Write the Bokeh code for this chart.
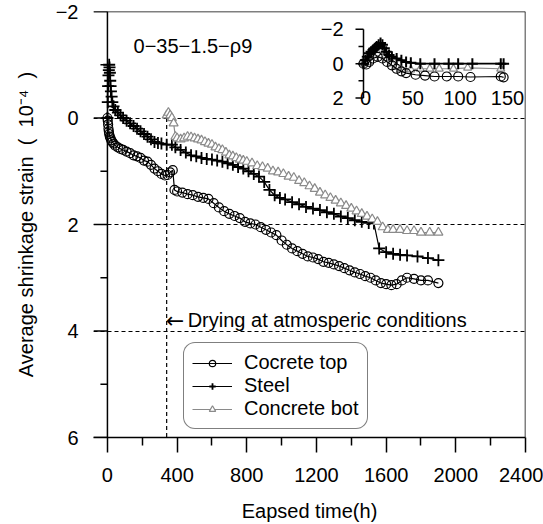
import math
from bokeh.plotting import figure
from bokeh.models import Range1d, FixedTicker, Legend, LegendItem, Span
from bokeh.core.properties import value
from bokeh.embed import file_html
from bokeh.resources import INLINE

FONT = "Liberation Sans"
FS = "20px"

# ---------------- data ----------------
top_t = [0, 2, 4, 6, 8, 10, 14, 18, 22, 28, 35, 45, 60, 75, 90, 110, 130, 150, 170, 190,
         210, 230, 250, 270, 290, 310, 330, 345, 360, 375, 385, 400, 430, 460, 490, 520,
         550, 580, 610, 640, 670, 700, 730, 760, 790, 820, 850, 880, 910, 940, 970, 1000,
         1030, 1060, 1090, 1120, 1150, 1180, 1210, 1240, 1270, 1300, 1330, 1360, 1390, 1420,
         1450, 1480, 1510, 1540, 1570, 1600, 1630, 1660, 1690, 1720, 1760, 1800, 1840, 1900]
top_y = [0, 0.05, 0.12, 0.2, 0.25, 0.3, 0.35, 0.38, 0.42, 0.45, 0.48, 0.52, 0.55, 0.58, 0.6,
         0.63, 0.66, 0.7, 0.72, 0.75, 0.8, 0.82, 0.88, 0.95, 1.0, 1.05, 1.08, 1.07, 1.02, 0.98,
         1.35, 1.38, 1.4, 1.43, 1.45, 1.48, 1.5, 1.52, 1.6, 1.68, 1.75, 1.8, 1.84, 1.88, 1.95,
         1.98, 2.0, 2.05, 2.1, 2.15, 2.2, 2.3, 2.38, 2.45, 2.5, 2.55, 2.6, 2.62, 2.65, 2.7,
         2.72, 2.75, 2.78, 2.82, 2.86, 2.9, 2.93, 2.97, 3.0, 3.05, 3.1, 3.12, 3.14, 3.12, 3.05,
         3.0, 3.02, 3.05, 3.05, 3.1]

steel_t = [0, 2, 4, 6, 8, 10, 12, 14, 16, 18, 20, 24, 28, 35, 45, 60, 75, 90, 110, 130, 150,
           170, 190, 210, 230, 250, 270, 290, 310, 340, 370, 390, 420, 450, 480, 510, 540, 570,
           600, 630, 660, 690, 720, 750, 780, 810, 840, 870, 900, 930, 960, 990, 1020, 1060,
           1100, 1140, 1180, 1220, 1260, 1300, 1340, 1380, 1420, 1460, 1500, 1530, 1560, 1600,
           1640, 1680, 1720, 1780, 1840, 1900]
steel_y = [0, -0.3, -0.6, -0.8, -0.9, -1.0, -0.95, -0.85, -0.7, -0.6, -0.5, -0.4, -0.3, -0.22,
           -0.15, -0.1, -0.05, 0.0, 0.05, 0.1, 0.15, 0.2, 0.25, 0.3, 0.35, 0.4, 0.45, 0.47, 0.48,
           0.5, 0.5, 0.55, 0.6, 0.65, 0.7, 0.72, 0.75, 0.77, 0.78, 0.8, 0.82, 0.85, 0.88, 0.92,
           0.95, 1.0, 1.05, 1.1, 1.2, 1.35, 1.45, 1.5, 1.53, 1.58, 1.62, 1.67, 1.7, 1.73, 1.77,
           1.8, 1.85, 1.88, 1.92, 1.95, 1.97, 1.98, 2.45, 2.52, 2.55, 2.57, 2.58, 2.6, 2.63, 2.67]

bot_t = [340, 350, 360, 370, 380, 390, 400, 420, 440, 460, 480, 500, 520, 540, 560, 580, 600,
         620, 640, 660, 680, 700, 720, 740, 760, 780, 800, 830, 860, 890, 920, 950, 980, 1010,
         1040, 1070, 1100, 1130, 1160, 1190, 1220, 1250, 1280, 1310, 1340, 1370, 1400, 1430,
         1460, 1490, 1520, 1550, 1580, 1610, 1640, 1680, 1720, 1760, 1800, 1850, 1900]
bot_y = [-0.05, -0.1, -0.05, 0.0, 0.1, 0.35, 0.38, 0.4, 0.38, 0.35, 0.36, 0.38, 0.4, 0.42,
         0.45, 0.48, 0.5, 0.55, 0.58, 0.6, 0.65, 0.7, 0.72, 0.75, 0.78, 0.8, 0.82, 0.85, 0.9,
         0.92, 0.95, 1.0, 1.02, 1.05, 1.1, 1.12, 1.18, 1.22, 1.28, 1.33, 1.4, 1.45, 1.5, 1.55,
         1.6, 1.65, 1.7, 1.75, 1.8, 1.85, 1.9, 1.95, 2.05, 2.1, 2.1, 2.1, 2.12, 2.12, 2.15,
         2.15, 2.15]

# inset (first 150 h)
in_steel_t = [0, 2, 4, 6, 8, 10, 12, 14, 16, 18, 20, 22, 24, 27, 30, 35, 40, 45, 50, 60, 75,
              90, 100, 115, 145, 148]
in_steel_y = [0, -0.2, -0.4, -0.6, -0.7, -0.8, -0.9, -1.0, -1.1, -1.2, -1.1, -0.9, -0.7, -0.5,
              -0.4, -0.3, -0.2, -0.1, -0.05, 0.0, 0.0, 0.0, 0.0, 0.0, 0.0, 0.0]
in_top_t = [0, 3, 6, 10, 15, 20, 25, 30, 35, 40, 45, 55, 65, 75, 88, 100, 113, 145, 148]
in_top_y = [0, 0.05, -0.1, -0.3, -0.4, -0.3, -0.1, 0.1, 0.3, 0.45, 0.55, 0.65, 0.7, 0.75,
            0.75, 0.75, 0.78, 0.75, 0.8]
in_bot_t = [0, 5, 10, 15, 20, 25, 30, 35, 40, 50, 60, 70, 80, 95, 110, 145]
in_bot_y = [0, -0.1, -0.5, -0.6, -0.5, -0.3, 0.0, 0.2, 0.35, 0.35, 0.3, 0.3, 0.3, 0.3, 0.25, 0.3]

x_ticks = [0, 400, 800, 1200, 1600, 2000, 2400]
x_minor = [200, 600, 1000, 1400, 1800, 2200]
y_ticks = [-2, 0, 2, 4, 6]
y_minor = [-1, 1, 3, 5]
grid_ticks = [0, 2, 4]
in_y_ticks = [-2, -1, 0, 1, 2]
in_y_labels = ["−2", "0", "2"]
in_y_label_pos = [-2, 0, 2]
in_x_ticks = [0, 50, 100, 150]

drying_t = 340
drying_label_y = 3.8
drying_text = "Drying at atmosperic conditions"
spec_label = "0−35−1.5−ρ9"
y_title = "Average shrinkage strain\u00a0\u00a0(\u00a0\u00a010⁻⁴\u00a0\u00a0)"

# ---------------- layout geometry ----------------
W, H = 543, 524
FL, FR, FT, FB = 93, 525, 11, 440
X0, X1 = -80, 2400
Y_BOT, Y_TOP = 6, -2

p = figure(width=W, height=H, output_backend="svg", toolbar_location=None,
           x_range=Range1d(X0, X1), y_range=Range1d(Y_BOT, Y_TOP),
           min_border_left=FL, min_border_right=W - FR, min_border_top=FT,
           min_border_bottom=H - FB)
p.outline_line_color = None
p.background_fill_color = "white"
p.border_fill_color = "white"

# x axis
xa = p.xaxis[0]
xa.ticker = FixedTicker(ticks=x_ticks, minor_ticks=x_minor)
xa.major_tick_out = 15
xa.major_tick_in = 0
xa.minor_tick_out = 8
xa.minor_tick_in = 0
xa.axis_line_width = 1.5
xa.major_tick_line_width = 1.5
xa.minor_tick_line_width = 1.5
xa.major_label_standoff = 15
xa.major_label_text_font = FONT
xa.major_label_text_font_size = FS
xa.major_label_text_color = "black"
xa.axis_label = "Eapsed time(h)"
xa.axis_label_text_font = FONT
xa.axis_label_text_font_size = FS
xa.axis_label_text_font_style = "normal"
xa.axis_label_text_color = "black"
xa.axis_label_standoff = 15

# y axis: labels from the frame side; line + ticks drawn at x = 0 below
ya = p.yaxis[0]
ya.ticker = FixedTicker(ticks=y_ticks, minor_ticks=y_minor)
ya.major_label_overrides = {-2: "−2"}
ya.axis_line_color = None
ya.major_tick_out = 0
ya.major_tick_in = 0
ya.minor_tick_out = 0
ya.minor_tick_in = 0
ya.major_label_standoff = 15
ya.major_label_text_font = FONT
ya.major_label_text_font_size = FS
ya.major_label_text_color = "black"
ya.axis_label = y_title
ya.axis_label_text_font = FONT
ya.axis_label_text_font_size = FS
ya.axis_label_text_font_style = "normal"
ya.axis_label_text_color = "black"
ya.axis_label_standoff = 16

p.add_layout(Span(location=0, dimension="height", line_color="black", line_width=1.5))
p.ray(x=[0] * len(y_ticks), y=y_ticks, length=14, length_units="screen", angle=math.pi,
      line_color="black", line_width=1.5)
p.ray(x=[0] * len(y_minor), y=y_minor, length=7, length_units="screen", angle=math.pi,
      line_color="black", line_width=1.5)

p.xgrid.visible = False
p.ygrid.ticker = FixedTicker(ticks=grid_ticks)
p.ygrid.grid_line_color = "black"
p.ygrid.grid_line_dash = "4 3"
p.ygrid.grid_line_width = 1

# top and right borders
p.add_layout(Span(location=Y_TOP, dimension="width", line_color="black", line_width=1.5))
p.add_layout(Span(location=X1, dimension="height", line_color="black", line_width=1.5))

# drying marker
p.segment(x0=[drying_t], y0=[0], x1=[drying_t], y1=[Y_BOT], line_color="black",
          line_dash="4 3", line_width=1.2)
p.text(x=[drying_t], y=[drying_label_y], text=["←"], text_font=value("DejaVu Sans"),
       text_font_size="22px", text_baseline="middle", x_offset=-1, text_color="black")
p.text(x=[drying_t], y=[drying_label_y], text=[drying_text], text_font=value(FONT),
       text_font_size=FS, text_baseline="middle", x_offset=21, text_color="black")
p.text(x=[150], y=[-1.35], text=[spec_label], text_font=value(FONT), text_font_size=FS,
       text_baseline="middle", text_color="black")

# main series
GRAY = "#8a8a8a"
l1 = p.line(top_t, top_y, line_color="black", line_width=1.2)
s1 = p.scatter(top_t, top_y, marker="circle", size=9, line_color="black", fill_color=None,
               line_width=1.2)
l2 = p.line(steel_t, steel_y, line_color="black", line_width=1.2)
s2 = p.scatter(steel_t, steel_y, marker="cross", size=12, line_color="black", line_width=1.8)
l3 = p.line(bot_t, bot_y, line_color=GRAY, line_width=1.2)
s3 = p.scatter(bot_t, bot_y, marker="triangle", size=9, line_color=GRAY, fill_color="white",
               line_width=1.2)

# ---------------- inset via extra ranges ----------------
IX0_PX, IX150_PX = 363, 505
IYM2_PX, IY2_PX = 29, 98
sx = (IX150_PX - IX0_PX) / 150.0
sy = (IY2_PX - IYM2_PX) / 4.0
p.extra_x_ranges = {"ix": Range1d(0 - (IX0_PX - FL) / sx, 150 + (FR - IX150_PX) / sx)}
p.extra_y_ranges = {"iy": Range1d(2 + (FB - IY2_PX) / sy, -2 - (IYM2_PX - FT) / sy)}
kw = dict(x_range_name="ix", y_range_name="iy")

p.segment(x0=[0], y0=[in_y_ticks[0]], x1=[0], y1=[in_y_ticks[-1]], line_color="black",
          line_width=1.5, **kw)
p.ray(x=[0] * len(in_y_ticks), y=in_y_ticks, length=[8, 5, 8, 5, 8], length_units="screen",
      angle=math.pi, line_color="black", line_width=1.5, **kw)
p.text(x=[0] * len(in_y_labels), y=in_y_label_pos, text=in_y_labels, text_font=value(FONT),
       text_font_size=FS, text_align="right", text_baseline="middle", x_offset=-20,
       text_color="black", **kw)
p.text(x=in_x_ticks, y=[2] * len(in_x_ticks), text=[str(v) for v in in_x_ticks],
       text_font=value(FONT), text_font_size=FS, text_align="center", text_baseline="middle",
       x_offset=2, text_color="black", **kw)

p.line(in_bot_t, in_bot_y, line_color=GRAY, line_width=1.2, **kw)
p.scatter(in_bot_t, in_bot_y, marker="triangle", size=8, line_color=GRAY, fill_color="white",
          line_width=1.2, **kw)
p.line(in_top_t, in_top_y, line_color="black", line_width=1.2, **kw)
p.scatter(in_top_t, in_top_y, marker="circle", size=9, line_color="black", fill_color=None,
          line_width=1.2, **kw)
p.line(in_steel_t, in_steel_y, line_color="black", line_width=1.8, **kw)
p.scatter(in_steel_t, in_steel_y, marker="cross", size=11, line_color="black", line_width=2,
          **kw)

# ---------------- legend ----------------
legend = Legend(items=[LegendItem(label="Cocrete top", renderers=[l1, s1]),
                       LegendItem(label="Steel", renderers=[l2, s2]),
                       LegendItem(label="Concrete bot", renderers=[l3, s3])],
                location=(90, 8))
legend.border_line_color = "black"
legend.border_line_width = 1.5
legend.label_text_font = FONT
legend.label_text_font_size = FS
legend.label_text_color = "black"
legend.glyph_width = 40
legend.glyph_height = 16
legend.label_height = 16
legend.spacing = 0
legend.padding = 8
legend.margin = 0
legend.label_standoff = 12
legend.background_fill_alpha = 1
try:
    legend.border_radius = 12
except Exception:
    pass
p.add_layout(legend)

open("out.html", "w").write(file_html(p, INLINE))
